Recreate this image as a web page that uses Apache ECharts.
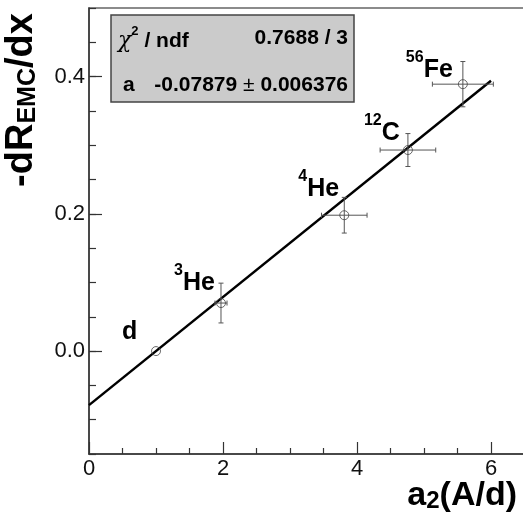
<!DOCTYPE html>
<html>
<head>
<meta charset="utf-8">
<script src="https://cdn.jsdelivr.net/npm/echarts@6/dist/echarts.min.js"></script>
<style>
  html, body { margin: 0; padding: 0; background: #ffffff; }
  #chart { width: 523px; height: 519px; }
</style>
</head>
<body>
<div id="chart"></div>
<script>
// Nuclei: mass-number superscript and element symbol
const nucleusMass = ['', '3', '4', '12', '56'];
const nucleusSymbol = ['d', 'He', 'He', 'C', 'Fe'];

// a2 scaling factors (x) and EMC slopes -dR/dx (y), with uncertainties
const a2Values = [1.0, 1.97, 3.81, 4.76, 5.58];
const a2Errors = [0.0, 0.09, 0.34, 0.415, 0.455];
const emcSlopes = [0.0, 0.070, 0.198, 0.293, 0.389];
const emcSlopeErrors = [0.0, 0.029, 0.026, 0.024, 0.033];

// One-parameter fit: slope = a * (1 - a2)
const fitA = -0.07879;
const fitAError = '0.006376';
const fitChi2 = '0.7688';
const fitNdf = 3;
const fitRange = [0, 6];

// Axis ranges and labelled ticks (the x frame runs past the right edge of the canvas)
const xRange = [0, 8];
const xMajorStep = 2;
const yRange = [-0.15, 0.5];
const yMinorStep = 0.05;
const yMajorTicks = [0, 0.2, 0.4];

// Pixel offsets of each nucleus label from its point (top-left of the label box)
const labelOffsets = [[-34, -39], [-47, -40], [-46, -47], [-44, -37], [-57, -35]];

const FONT = 'Liberation Sans, Arial, sans-serif';
const AXIS_COLOR = '#333333';

const chart = echarts.init(document.getElementById('chart'), null, { renderer: 'canvas' });

const points = a2Values.map((x, i) => [x, emcSlopes[i], a2Errors[i], emcSlopeErrors[i], i]);
const fitLine = fitRange.map(x => [x, fitA * (1 - x)]);

function renderErrorBars(params, api) {
  const x = api.value(0), y = api.value(1);
  const ex = api.value(2), ey = api.value(3);
  const idx = api.value(4);
  const c = api.coord([x, y]);
  const cap = 2.5;
  const lineStyle = { stroke: '#555555', lineWidth: 1 };
  const children = [];
  if (ey > 0) {
    const t = api.coord([x, y + ey]), b = api.coord([x, y - ey]);
    children.push({ type: 'line', shape: { x1: t[0], y1: t[1], x2: b[0], y2: b[1] }, style: lineStyle });
    children.push({ type: 'line', shape: { x1: t[0] - cap, y1: t[1], x2: t[0] + cap, y2: t[1] }, style: lineStyle });
    children.push({ type: 'line', shape: { x1: b[0] - cap, y1: b[1], x2: b[0] + cap, y2: b[1] }, style: lineStyle });
  }
  if (ex > 0) {
    const l = api.coord([x - ex, y]), r = api.coord([x + ex, y]);
    children.push({ type: 'line', shape: { x1: l[0], y1: l[1], x2: r[0], y2: r[1] }, style: lineStyle });
    children.push({ type: 'line', shape: { x1: l[0], y1: l[1] - cap, x2: l[0], y2: l[1] + cap }, style: lineStyle });
    children.push({ type: 'line', shape: { x1: r[0], y1: r[1] - cap, x2: r[0], y2: r[1] + cap }, style: lineStyle });
  }
  const off = labelOffsets[idx];
  const mass = nucleusMass[idx];
  children.push({
    type: 'text',
    x: c[0] + off[0],
    y: c[1] + off[1],
    style: {
      text: (mass ? '{sup|' + mass + '}' : '') + '{m|' + nucleusSymbol[idx] + '}',
      align: 'left',
      verticalAlign: 'top',
      rich: {
        sup: { fontFamily: FONT, fontWeight: 'bold', fontSize: 16, lineHeight: 16, verticalAlign: 'top', fill: '#000' },
        m: { fontFamily: FONT, fontWeight: 'bold', fontSize: 25, lineHeight: 33, verticalAlign: 'bottom', fill: '#000' }
      }
    }
  });
  return { type: 'group', children };
}

const option = {
  backgroundColor: '#ffffff',
  animation: false,
  grid: {
    left: 89, top: 8, width: 536, height: 446,
    show: true, borderColor: '#666666', borderWidth: 1.5, backgroundColor: 'transparent',
    outerBoundsMode: 'none', containLabel: false
  },
  xAxis: [
    {
      type: 'value', position: 'bottom', min: xRange[0], max: xRange[1], interval: xMajorStep,
      axisLine: { show: true, onZero: false, lineStyle: { color: AXIS_COLOR, width: 1.5 } },
      axisTick: { show: true, inside: true, length: 12, lineStyle: { color: AXIS_COLOR, width: 1.2 } },
      minorTick: { show: true, splitNumber: 4, length: 6, lineStyle: { color: AXIS_COLOR, width: 1.2 } },
      axisLabel: { fontFamily: FONT, fontSize: 22, color: '#111', margin: 4,
        formatter: v => String(v) },
      splitLine: { show: false },
      minorSplitLine: { show: false }
    }
  ],
  yAxis: [
    {
      type: 'value', position: 'left', min: yRange[0], max: yRange[1],
      axisLine: { show: true, onZero: false, lineStyle: { color: AXIS_COLOR, width: 1.5 } },
      axisTick: { show: true, inside: true, length: 13, customValues: yMajorTicks, lineStyle: { color: AXIS_COLOR, width: 1.2 } },
      axisLabel: { customValues: yMajorTicks, fontFamily: FONT, fontSize: 22, color: '#111', margin: 4,
        formatter: v => v.toFixed(1) },
      splitLine: { show: false }
    },
    {
      // short ticks every 0.05
      type: 'value', position: 'left', min: yRange[0], max: yRange[1], interval: yMinorStep,
      axisLine: { show: false, onZero: false },
      axisTick: { show: true, inside: true, length: 7, lineStyle: { color: AXIS_COLOR, width: 1.2 } },
      axisLabel: { show: false },
      splitLine: { show: false }
    }
  ],
  series: [
    {
      type: 'line', data: fitLine, xAxisIndex: 0, yAxisIndex: 0,
      showSymbol: false, symbol: 'none',
      lineStyle: { color: '#000000', width: 2.5 },
      z: 3
    },
    {
      type: 'custom', data: points, xAxisIndex: 0, yAxisIndex: 0,
      renderItem: renderErrorBars, clip: false, z: 4
    },
    {
      // open circles on the second y axis (same range as the first)
      type: 'scatter', data: points.map(p => [p[0], p[1]]), xAxisIndex: 0, yAxisIndex: 1,
      symbol: 'circle', symbolSize: 9,
      itemStyle: { color: 'rgba(0,0,0,0)', borderColor: '#444444', borderWidth: 1 },
      z: 5
    }
  ],
  graphic: [
    // fit statistics box
    {
      type: 'rect', z: 10,
      shape: { x: 111, y: 15, width: 243, height: 87 },
      style: { fill: '#cbcbcb', stroke: '#444444', lineWidth: 1.5 }
    },
    {
      type: 'text', z: 11, x: 118, y: 25,
      style: {
        text: '{chi|χ}{sup|2}{b| / ndf}', align: 'left', verticalAlign: 'top',
        rich: {
          chi: { fontFamily: 'DejaVu Serif, serif', fontStyle: 'italic', fontSize: 22, lineHeight: 27, verticalAlign: 'bottom', fill: '#000' },
          sup: { fontFamily: FONT, fontWeight: 'bold', fontSize: 13, lineHeight: 20, verticalAlign: 'top', fill: '#000' },
          b: { fontFamily: FONT, fontWeight: 'bold', fontSize: 21, lineHeight: 27, verticalAlign: 'bottom', fill: '#000' }
        }
      }
    },
    {
      type: 'text', z: 11, x: 348, y: 38.5,
      style: { text: fitChi2 + ' / ' + fitNdf, align: 'right', verticalAlign: 'middle',
        fontFamily: FONT, fontWeight: 'bold', fontSize: 21, fill: '#000' }
    },
    {
      type: 'text', z: 11, x: 123, y: 85,
      style: { text: 'a', align: 'left', verticalAlign: 'middle',
        fontFamily: FONT, fontWeight: 'bold', fontSize: 21, fill: '#000' }
    },
    {
      type: 'text', z: 11, x: 348, y: 85,
      style: {
        text: '{b|' + fitA.toFixed(5) + '}{r| ± }{b|' + fitAError + '}', align: 'right', verticalAlign: 'middle',
        rich: {
          b: { fontFamily: FONT, fontWeight: 'bold', fontSize: 21, fill: '#000' },
          r: { fontFamily: FONT, fontSize: 21, fill: '#000' }
        }
      }
    },
    // y-axis title
    {
      type: 'text', z: 11, x: 21.7, y: 100, rotation: Math.PI / 2,
      style: {
        text: '{m|-dR}{s|EMC}{m|/dx}', align: 'center', verticalAlign: 'middle',
        rich: {
          m: { fontFamily: FONT, fontWeight: 'bold', fontSize: 38, lineHeight: 38, verticalAlign: 'top', fill: '#000' },
          s: { fontFamily: FONT, fontWeight: 'bold', fontSize: 25, lineHeight: 9, verticalAlign: 'bottom', fill: '#000' }
        }
      }
    },
    // x-axis title
    {
      type: 'text', z: 11, x: 517, y: 479,
      style: {
        text: '{m|a}{s|2}{m|(A/d)}', align: 'right', verticalAlign: 'top',
        rich: {
          m: { fontFamily: FONT, fontWeight: 'bold', fontSize: 34, lineHeight: 34, verticalAlign: 'top', fill: '#000' },
          s: { fontFamily: FONT, fontWeight: 'bold', fontSize: 24, lineHeight: 8, verticalAlign: 'bottom', fill: '#000' }
        }
      }
    }
  ]
};

chart.setOption(option);
</script>
</body>
</html>
